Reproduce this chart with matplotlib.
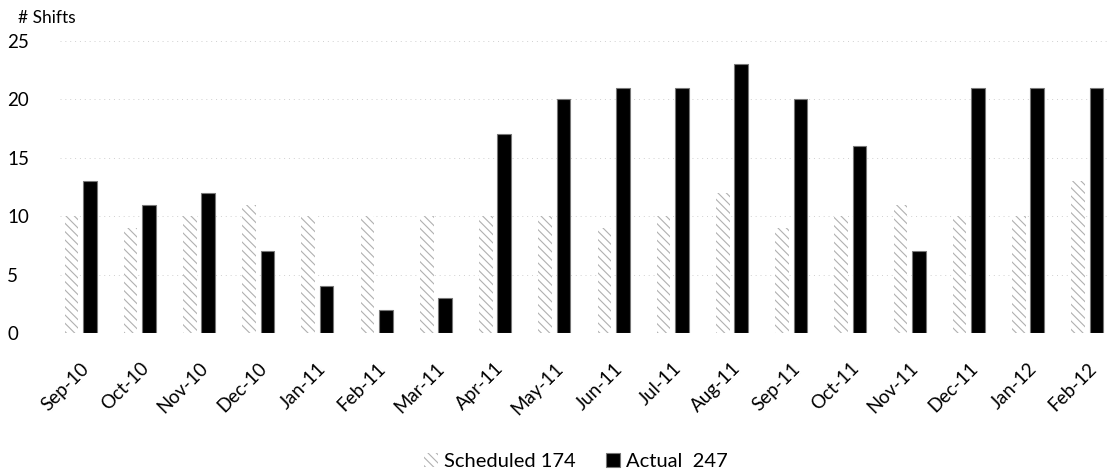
import numpy as np
import matplotlib.pyplot as plt

plt.rcParams['font.family'] = ['Lato', 'DejaVu Sans']
plt.rcParams['hatch.linewidth'] = 0.8

months = ["Sep-10", "Oct-10", "Nov-10", "Dec-10", "Jan-11", "Feb-11",
          "Mar-11", "Apr-11", "May-11", "Jun-11", "Jul-11", "Aug-11",
          "Sep-11", "Oct-11", "Nov-11", "Dec-11", "Jan-12", "Feb-12"]
scheduled = [10, 9, 10, 11, 10, 10, 10, 10, 10, 9, 10, 12, 9, 10, 11, 10, 10, 13]
actual = [13, 11, 12, 7, 4, 2, 3, 17, 20, 21, 21, 23, 20, 16, 7, 21, 21, 21]
scheduled_total = 174
actual_total = 247

x = np.arange(len(months))
w = 0.23

fig = plt.figure(figsize=(11.08, 4.76), dpi=100)
ax = fig.add_axes([0.054, 0.300, 0.946, 0.614])

ax.bar(x - 0.155, scheduled, w, color="white", edgecolor="#b0b0b0",
       hatch="\\\\\\\\", linewidth=0, label=f"Scheduled {scheduled_total}")
ax.bar(x + 0.155, actual, w, color="black", edgecolor="#777777",
       linewidth=0.8, label=f"Actual  {actual_total}")

ax.set_xlim(-0.35, 17.35)
ax.set_ylim(0, 25)
ax.set_yticks([0, 5, 10, 15, 20, 25])
ax.tick_params(axis="y", labelsize=13.5, length=0, pad=38)
ax.set_yticklabels([0, 5, 10, 15, 20, 25], ha="left")
ax.set_xticks(x)
ax.set_xticklabels(months, rotation=45, ha="right", rotation_mode="anchor",
                   fontsize=13.5)
ax.tick_params(axis="x", length=0, pad=19)
ax.yaxis.grid(True, color="#d0d0d0", linestyle=(0, (1, 4)), linewidth=0.7)
ax.set_axisbelow(True)
for s in ax.spines.values():
    s.set_visible(False)

fig.text(0.016, 0.962, "# Shifts", fontsize=12.5, va="center")

fig.legend(loc="center", bbox_to_anchor=(0.52, 0.03), ncol=2, frameon=False,
           fontsize=14.5, handlelength=0.7, handleheight=0.7, columnspacing=1.5,
           handletextpad=0.3)

fig.savefig("out.png", dpi=100)
